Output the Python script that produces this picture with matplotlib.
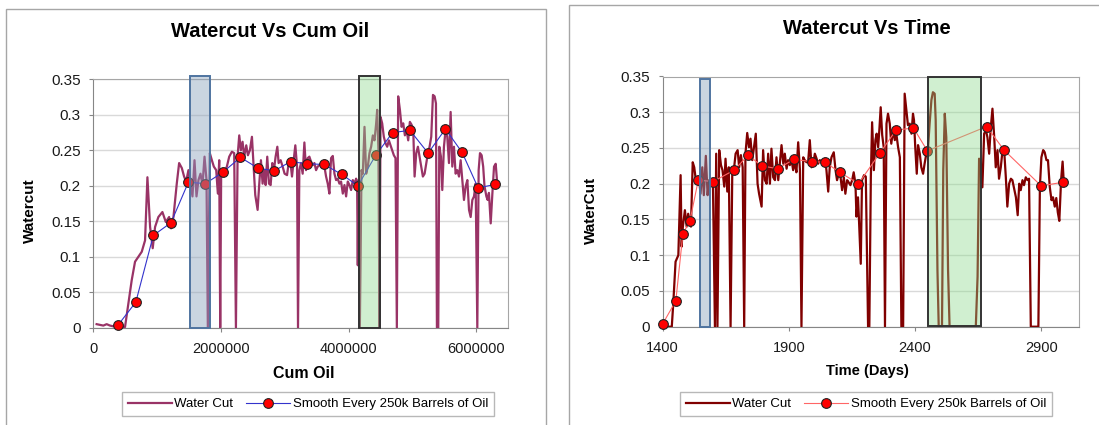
import matplotlib
matplotlib.use("Agg")
import matplotlib.pyplot as plt
from matplotlib.patches import Rectangle
from matplotlib.lines import Line2D
from matplotlib.ticker import FuncFormatter, MultipleLocator

plt.rcParams['font.family'] = ['Liberation Sans', 'DejaVu Sans']

# ---- raw water cut vs time (days)
time_days = [1400, 1410, 1425, 1436, 1442, 1451, 1462, 1471, 1475, 1480, 1488, 1495, 1501, 1512,
             1519, 1525, 1530, 1538, 1544, 1550, 1557, 1563, 1571, 1578, 1584, 1591, 1599, 1607,
             1612, 1617, 1624, 1631, 1637, 1644, 1649, 1656, 1662, 1669, 1676, 1682, 1689, 1697,
             1703, 1710, 1717, 1723, 1728, 1735, 1742, 1748, 1755, 1763, 1769, 1776, 1782, 1792,
             1798, 1805, 1812, 1818, 1825, 1831, 1838, 1845, 1851, 1858, 1864, 1871, 1878, 1884,
             1891, 1897, 1904, 1910, 1917, 1924, 1930, 1937, 1944, 1950, 1957, 1963, 1970, 1977,
             1983, 1990, 1996, 2003, 2010, 2016, 2023, 2029, 2036, 2043, 2049, 2056, 2062, 2069,
             2078, 2085, 2091, 2098, 2105, 2111, 2118, 2124, 2131, 2137, 2144, 2151, 2157, 2164,
             2168, 2174, 2178, 2185, 2190, 2198, 2205, 2214, 2219, 2225, 2230, 2237, 2243, 2248,
             2254, 2259, 2264, 2270, 2276, 2281, 2287, 2293, 2300, 2306, 2313, 2320, 2326, 2333,
             2340, 2346, 2353, 2359, 2366, 2372, 2379, 2386, 2392, 2396, 2401, 2407, 2412, 2419,
             2425, 2432, 2438, 2445, 2451, 2458, 2465, 2471, 2478, 2482, 2489, 2494, 2507, 2512,
             2518, 2524, 2531, 2537, 2562, 2600, 2641, 2648, 2654, 2661, 2667, 2674, 2681, 2687,
             2694, 2700, 2707, 2714, 2720, 2727, 2733, 2740, 2747, 2753, 2760, 2766, 2773, 2780,
             2786, 2793, 2800, 2807, 2813, 2819, 2826, 2832, 2839, 2846, 2852, 2859, 2889, 2895,
             2901, 2908, 2914, 2921, 2927, 2934, 2941, 2947, 2954, 2960, 2966, 2972, 2979, 2985,
             2990]
wc_time = [0.004, 0.0, 0.0, 0.0, 0.033, 0.091, 0.100, 0.212, 0.112, 0.140, 0.163, 0.140, 0.158, 0.140,
           0.230, 0.223, 0.209, 0.200, 0.207, 0.186, 0.223, 0.184, 0.239, 0.184, 0.205, 0.198, 0.203, 0.0,
           0.242, 0.0, 0.247, 0.226, 0.219, 0.196, 0.235, 0.189, 0.223, 0.0, 0.223, 0.219, 0.242, 0.247,
           0.223, 0.240, 0.223, 0.0, 0.242, 0.271, 0.251, 0.263, 0.233, 0.254, 0.270, 0.200, 0.186, 0.168,
           0.247, 0.205, 0.200, 0.242, 0.200, 0.249, 0.209, 0.205, 0.237, 0.205, 0.228, 0.254, 0.228, 0.242,
           0.221, 0.233, 0.226, 0.235, 0.219, 0.230, 0.216, 0.258, 0.219, 0.0, 0.237, 0.233, 0.230, 0.233,
           0.261, 0.223, 0.226, 0.242, 0.235, 0.228, 0.233, 0.230, 0.228, 0.235, 0.219, 0.189, 0.223, 0.237,
           0.244, 0.219, 0.205, 0.214, 0.209, 0.191, 0.209, 0.186, 0.205, 0.202, 0.198, 0.205, 0.216, 0.200,
           0.154, 0.181, 0.149, 0.088, 0.205, 0.212, 0.210, 0.0, 0.0, 0.210, 0.286, 0.219, 0.261, 0.270,
           0.251, 0.277, 0.307, 0.268, 0.251, 0.0, 0.284, 0.298, 0.284, 0.256, 0.275, 0.261, 0.270, 0.251,
           0.237, 0.0, 0.0, 0.326, 0.303, 0.282, 0.284, 0.270, 0.298, 0.289, 0.251, 0.214, 0.254, 0.242,
           0.223, 0.214, 0.228, 0.242, 0.247, 0.284, 0.317, 0.328, 0.326, 0.289, 0.079, 0.0, 0.0, 0.219,
           0.298, 0.265, 0.079, 0.0, 0.0, 0.0, 0.0, 0.070, 0.235, 0.228, 0.195, 0.270, 0.275, 0.265,
           0.242, 0.277, 0.305, 0.265, 0.223, 0.247, 0.207, 0.223, 0.247, 0.249, 0.209, 0.168, 0.200, 0.207,
           0.205, 0.193, 0.181, 0.156, 0.200, 0.191, 0.205, 0.198, 0.209, 0.205, 0.207, 0.0, 0.0, 0.196,
           0.237, 0.247, 0.244, 0.233, 0.233, 0.196, 0.177, 0.181, 0.168, 0.180, 0.160, 0.148, 0.205, 0.231,
           0.200]

# ---- raw water cut vs cumulative oil (barrels, thousands)
cum_oil_k = [52, 105, 157, 209, 262, 314, 382, 445, 497, 550, 602, 654, 707, 759, 811, 848, 890, 931,
             968, 1020, 1083, 1136, 1188, 1219, 1256, 1308, 1345, 1387, 1423, 1455, 1491, 1523, 1554,
             1586, 1617, 1648, 1680, 1711, 1743, 1774, 1795, 1826, 1858, 1889, 1926, 1952, 1973, 1989,
             2004, 2041, 2093, 2130, 2172, 2208, 2235, 2261, 2287, 2313, 2339, 2365, 2397, 2423, 2454,
             2486, 2512, 2538, 2575, 2601, 2627, 2653, 2680, 2701, 2726, 2753, 2779, 2805, 2831, 2857,
             2884, 2904, 2936, 2967, 2998, 3036, 3062, 3088, 3114, 3140, 3166, 3193, 3208, 3229, 3255,
             3281, 3308, 3334, 3360, 3386, 3412, 3439, 3465, 3491, 3517, 3543, 3570, 3596, 3622, 3648,
             3674, 3700, 3726, 3753, 3779, 3805, 3831, 3857, 3883, 3910, 3936, 3962, 3988, 4014, 4040,
             4067, 4093, 4119, 4135, 4145, 4155, 4177, 4203, 4224, 4250, 4276, 4302, 4328, 4354, 4381,
             4407, 4433, 4449, 4469, 4485, 4501, 4527, 4553, 4579, 4606, 4632, 4658, 4684, 4710, 4736,
             4757, 4778, 4805, 4831, 4857, 4883, 4909, 4935, 4961, 4988, 5014, 5035, 5061, 5087, 5113,
             5139, 5165, 5192, 5218, 5244, 5270, 5296, 5323, 5349, 5370, 5385, 5406, 5422, 5448, 5469,
             5495, 5521, 5547, 5574, 5600, 5626, 5652, 5678, 5704, 5731, 5757, 5783, 5809, 5835, 5862,
             5888, 5914, 5940, 5966, 5992, 6018, 6039, 6060, 6086, 6110, 6130, 6160, 6180, 6200, 6228,
             6254, 6280, 6306, 6330]
wc_cum = [0.005, 0.004, 0.003, 0.005, 0.003, 0.002, 0.003, 0.001, 0.001, 0.034, 0.067, 0.093, 0.100,
          0.107, 0.123, 0.212, 0.142, 0.112, 0.142, 0.156, 0.163, 0.149, 0.156, 0.140, 0.156, 0.203,
          0.232, 0.225, 0.213, 0.206, 0.222, 0.203, 0.185, 0.236, 0.185, 0.208, 0.217, 0.201, 0.241,
          0.208, 0.0, 0.246, 0.236, 0.227, 0.222, 0.189, 0.236, 0.0, 0.222, 0.217, 0.227, 0.241, 0.248,
          0.246, 0.0, 0.241, 0.271, 0.250, 0.262, 0.241, 0.257, 0.243, 0.250, 0.269, 0.227, 0.187, 0.166,
          0.203, 0.236, 0.203, 0.222, 0.201, 0.241, 0.203, 0.201, 0.232, 0.222, 0.241, 0.255, 0.232,
          0.236, 0.227, 0.217, 0.215, 0.232, 0.234, 0.213, 0.236, 0.257, 0.227, 0.0, 0.222, 0.232, 0.217,
          0.261, 0.222, 0.239, 0.241, 0.234, 0.229, 0.232, 0.222, 0.227, 0.229, 0.232, 0.225, 0.227,
          0.213, 0.203, 0.189, 0.239, 0.242, 0.217, 0.208, 0.210, 0.203, 0.206, 0.189, 0.201, 0.185,
          0.206, 0.201, 0.194, 0.208, 0.203, 0.210, 0.194, 0.088, 0.208, 0.0, 0.222, 0.217, 0.283, 0.217,
          0.227, 0.246, 0.255, 0.271, 0.264, 0.288, 0.307, 0.250, 0.0, 0.297, 0.288, 0.269, 0.260, 0.255,
          0.264, 0.257, 0.250, 0.243, 0.239, 0.0, 0.326, 0.307, 0.283, 0.288, 0.271, 0.279, 0.264, 0.290,
          0.286, 0.279, 0.213, 0.246, 0.255, 0.241, 0.227, 0.213, 0.217, 0.232, 0.246, 0.255, 0.269,
          0.328, 0.326, 0.316, 0.0, 0.0, 0.255, 0.241, 0.194, 0.255, 0.279, 0.269, 0.232, 0.304, 0.227,
          0.255, 0.217, 0.222, 0.213, 0.236, 0.208, 0.180, 0.199, 0.208, 0.166, 0.156, 0.180, 0.185,
          0.203, 0.0, 0.222, 0.246, 0.243, 0.227, 0.200, 0.185, 0.180, 0.190, 0.147, 0.189, 0.227, 0.231,
          0.203]

# ---- smoothed every 250k barrels of oil
smooth_wc = [0.004, 0.036, 0.130, 0.148, 0.205, 0.203, 0.219, 0.240, 0.225, 0.221, 0.234, 0.231,
             0.230, 0.216, 0.200, 0.243, 0.275, 0.278, 0.246, 0.280, 0.247, 0.197, 0.202]
smooth_cum_k = [390, 666, 940, 1218, 1490, 1755, 2030, 2306, 2577, 2834, 3092, 3350, 3615, 3894,
                4147, 4426, 4690, 4963, 5247, 5518, 5780, 6031, 6303]
smooth_days = [1400, 1452, 1480, 1508, 1541, 1600, 1683, 1739, 1792, 1856, 1920, 1990, 2044, 2102,
               2176, 2261, 2325, 2394, 2449, 2684, 2753, 2900, 2985]

# highlight boxes (x range)
cum_blue = (1513, 1836)
cum_green = (4167, 4486)
days_blue = (1549, 1588)
days_green = (2452, 2660)

fig = plt.figure(figsize=(10.99, 4.25), dpi=100)

# outer chart frames
fig.add_artist(Rectangle((6.3 / 1099, -0.1), (545.6 - 6.3) / 1099, 1.078, transform=fig.transFigure,
                         fill=False, edgecolor='#A6A6A6', lw=1.0))
fig.add_artist(Rectangle((569 / 1099, -0.1), 0.6, 1.0875, transform=fig.transFigure,
                         fill=False, edgecolor='#A6A6A6', lw=1.0))


def style_axes(ax):
    ax.set_ylim(0, 0.35)
    ax.yaxis.set_major_locator(MultipleLocator(0.05))
    ax.yaxis.set_major_formatter(FuncFormatter(lambda v, p: '%g' % round(v, 2)))
    ax.grid(axis='y', color='#D9D9D9', lw=1.0)
    ax.set_axisbelow(True)
    for s in ax.spines.values():
        s.set_color('#A6A6A6')
    ax.spines['left'].set_color('#868686')
    ax.spines['bottom'].set_color('#868686')
    ax.tick_params(axis='both', direction='out', length=3, color='#868686', labelsize=10.5,
                   labelcolor='#1A1A1A')
    ax.tick_params(axis='y', pad=6, labelsize=11)
    ax.tick_params(axis='x', pad=7)


def add_box(ax, x0, x1, y0, y1, face, edge, alpha):
    ax.add_patch(Rectangle((x0, y0), x1 - x0, y1 - y0, facecolor=face, alpha=alpha,
                           edgecolor='none', zorder=5, clip_on=False))
    ax.add_patch(Rectangle((x0, y0), x1 - x0, y1 - y0, fill=False, edgecolor=edge, lw=1.4,
                           zorder=6, clip_on=False))


# ---- left: watercut vs cum oil
ax1 = fig.add_axes([0.0849, 0.2289, 0.3774, 0.5845])
cum_oil = [c * 1000 for c in cum_oil_k]
smooth_cum = [c * 1000 for c in smooth_cum_k]
ax1.plot(cum_oil, wc_cum, color='#993366', lw=1.6, zorder=3)
ax1.plot(smooth_cum, smooth_wc, color='#3333CC', lw=0.8, marker='o', markersize=7,
         markerfacecolor='#FF0000', markeredgecolor='#222222', markeredgewidth=0.8, zorder=4,
         clip_on=False)
style_axes(ax1)
ax1.set_xlim(0, 6.5e6)
ax1.set_xticks([0, 2e6, 4e6, 6e6])
ax1.xaxis.set_major_formatter(FuncFormatter(lambda v, p: '%d' % v))
add_box(ax1, cum_blue[0] * 1000, cum_blue[1] * 1000, 0, 0.354, '#8BA2BC', '#4F74A0', 0.45)
add_box(ax1, cum_green[0] * 1000, cum_green[1] * 1000, 0, 0.354, '#8AD98A', '#333333', 0.4)

# ---- right: watercut vs time
ax2 = fig.add_axes([0.603, 0.2313, 0.3788, 0.5887])
ax2.plot(time_days, wc_time, color='#800000', lw=1.6, zorder=3)
ax2.plot(smooth_days, smooth_wc, color='#FF6666', lw=0.8, marker='o', markersize=7,
         markerfacecolor='#FF0000', markeredgecolor='#222222', markeredgewidth=0.8, zorder=4,
         clip_on=False)
style_axes(ax2)
ax2.set_xlim(1400, 3050)
ax2.set_xticks([1400, 1900, 2400, 2900])
add_box(ax2, days_blue[0], days_blue[1], 0, 0.346, '#8BA2BC', '#4F74A0', 0.45)
add_box(ax2, days_green[0], days_green[1], 0.001, 0.349, '#8AD98A', '#333333', 0.4)

# titles and axis labels
fig.text(0.2457, 0.925, 'Watercut Vs Cum Oil', ha='center', va='center', fontsize=14.5, fontweight='bold')
fig.text(0.789, 0.934, 'Watercut Vs Time', ha='center', va='center', fontsize=14.5, fontweight='bold')
fig.text(0.0273, 0.505, 'Watercut', rotation=90, ha='center', va='center', fontsize=11, fontweight='bold')
fig.text(0.538, 0.506, 'WaterCut', rotation=90, ha='center', va='center', fontsize=11, fontweight='bold')
fig.text(0.2766, 0.122, 'Cum Oil', ha='center', va='center', fontsize=11.5, fontweight='bold')
fig.text(0.789, 0.127, 'Time (Days)', ha='center', va='center', fontsize=10.5, fontweight='bold')

# legends
for cx, raw_col, sm_col in [(0.2803, '#993366', '#3333CC'), (0.788, '#800000', '#FF6666')]:
    handles = [Line2D([], [], color=raw_col, lw=1.6),
               Line2D([], [], color=sm_col, lw=0.8, marker='o', markersize=7,
                      markerfacecolor='#FF0000', markeredgecolor='#222222', markeredgewidth=0.8)]
    leg = fig.legend(handles, ['Water Cut', 'Smooth Every 250k Barrels of Oil'], loc='center',
                     bbox_to_anchor=(cx, 0.049), ncol=2, fontsize=9.5, frameon=True, fancybox=False,
                     edgecolor='#A6A6A6', handlelength=3.3, handletextpad=0.2, columnspacing=1.0,
                     borderpad=0.45)
    leg.get_frame().set_linewidth(1.0)

fig.savefig('out.png', dpi=100)
